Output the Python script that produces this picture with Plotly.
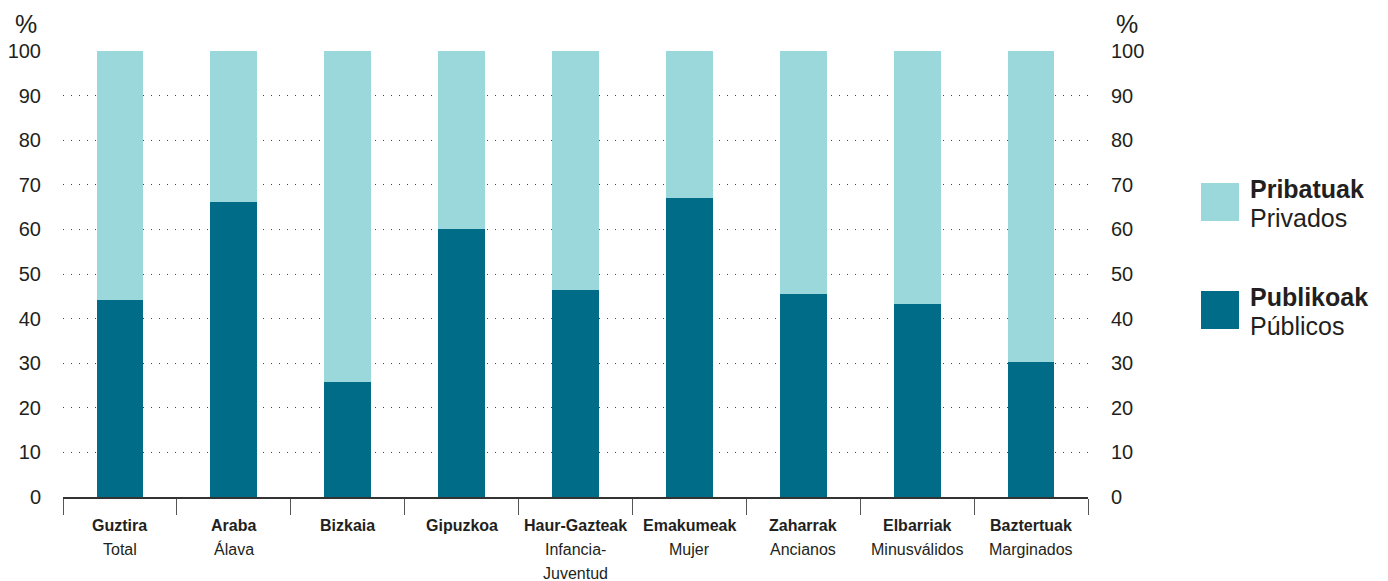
import plotly.graph_objects as go

categories_eu = ["Guztira", "Araba", "Bizkaia", "Gipuzkoa", "Haur-Gazteak",
                 "Emakumeak", "Zaharrak", "Elbarriak", "Baztertuak"]
categories_es = ["Total", "Álava", "", "", "Infancia-<br>Juventud",
                 "Mujer", "Ancianos", "Minusválidos", "Marginados"]
publikoak = [44.2, 66.1, 25.8, 60.1, 46.4, 67.0, 45.5, 43.3, 30.3]
pribatuak = [round(100 - v, 1) for v in publikoak]
yticks = [0, 10, 20, 30, 40, 50, 60, 70, 80, 90, 100]

DARK = "#006C87"
LIGHT = "#9BD8DB"
FONT = "Liberation Sans, Arial, sans-serif"
TXT = "#231F20"

x = list(range(len(categories_eu)))

fig = go.Figure()
fig.add_trace(go.Bar(x=x, y=publikoak, marker=dict(color=DARK, line_width=0),
                     name="Publikoak", showlegend=False))
fig.add_trace(go.Bar(x=x, y=pribatuak, marker=dict(color=LIGHT, line_width=0),
                     name="Pribatuak", showlegend=False))
fig.add_trace(go.Scatter(x=[x[0]], y=[0], yaxis="y2", mode="markers",
                         marker=dict(opacity=0), showlegend=False, hoverinfo="skip"))

# page body has an 8px margin: plot area in figure px = reference px - 8
fig.update_layout(
    barmode="stack",
    bargap=0.59,
    width=1380, height=573,
    margin=dict(l=55, r=300, t=43, b=84),
    plot_bgcolor="white", paper_bgcolor="white",
    font=dict(family=FONT, color=TXT),
    xaxis=dict(
        range=[-0.5, len(x) - 0.5],
        tickmode="array",
        tickvals=[i - 0.5 for i in range(len(x) + 1)],
        showticklabels=False,
        ticks="outside", ticklen=16, tickwidth=1, tickcolor="#555",
        showgrid=False, zeroline=False, automargin=False,
        showline=True, linecolor="#333", linewidth=2,
    ),
    yaxis=dict(
        range=[0, 100],
        tickvals=yticks,
        tickfont=dict(size=20, color=TXT),
        showgrid=True, gridcolor="#444", gridwidth=1, griddash="1px,7px",
        zeroline=False, showline=False, automargin=False,
        ticks="outside", ticklen=17, tickcolor="rgba(0,0,0,0)",
    ),
    yaxis2=dict(
        range=[0, 100], overlaying="y", side="right",
        tickvals=yticks,
        tickfont=dict(size=20, color=TXT),
        showgrid=False, zeroline=False, showline=False, automargin=False,
        ticks="outside", ticklen=18, tickcolor="rgba(0,0,0,0)",
    ),
)

ann = []
def pyy(p):
    return (497 - p) / 446.0
def pxx(p):
    return (p - 63) / 1025.0

for i in x:
    ann.append(dict(x=i, y=pyy(525), xref="x", yref="paper", text="<b>%s</b>" % categories_eu[i],
                    showarrow=False, font=dict(size=16, color=TXT), xanchor="center", yanchor="middle"))
    parts = categories_es[i].split("<br>") if categories_es[i] else []
    for j, p in enumerate(parts):
        ann.append(dict(x=i, y=pyy(549 + 24 * j), xref="x", yref="paper", text=p,
                        showarrow=False, font=dict(size=16, color=TXT), xanchor="center", yanchor="middle"))

ann.append(dict(x=pxx(26), y=pyy(24), xref="paper", yref="paper", text="%", showarrow=False,
                font=dict(size=25, color=TXT), xanchor="center", yanchor="middle"))
ann.append(dict(x=pxx(1127), y=pyy(24), xref="paper", yref="paper", text="%", showarrow=False,
                font=dict(size=25, color=TXT), xanchor="center", yanchor="middle"))

legend_items = [("Pribatuak", "Privados", LIGHT, 183), ("Publikoak", "Públicos", DARK, 291)]
shapes = []
for eu, es, col, top in legend_items:
    shapes.append(dict(type="rect", xref="paper", yref="paper",
                       x0=pxx(1201), x1=pxx(1239), y0=pyy(top + 38), y1=pyy(top),
                       fillcolor=col, line_width=0))
    ann.append(dict(x=pxx(1248), y=pyy(top + 6), xref="paper", yref="paper", text="<b>%s</b>" % eu,
                    showarrow=False, font=dict(size=25, color=TXT), xanchor="left", yanchor="middle"))
    ann.append(dict(x=pxx(1248), y=pyy(top + 35), xref="paper", yref="paper", text=es,
                    showarrow=False, font=dict(size=25, color=TXT), xanchor="left", yanchor="middle"))

fig.update_layout(annotations=ann, shapes=shapes)
fig.write_html("out.html")
